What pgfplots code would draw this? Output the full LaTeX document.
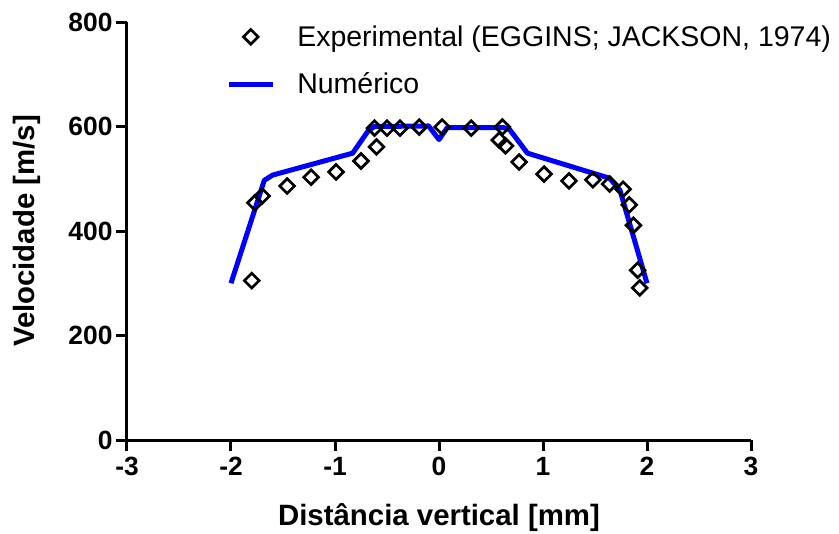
\documentclass[border=0pt]{standalone}
\usepackage{pgfplots}
\pgfplotsset{compat=1.18}
\usepackage{fontspec}
\setmainfont{Liberation Sans}
\pgfplotsset{
  lineleg/.style={legend image code/.code={\draw[##1] (0bp,0bp) -- (44bp,0bp);}},
  markleg/.style={legend image code/.code={\draw[mark repeat=2,mark phase=2,##1] plot coordinates {(0bp,0bp)(22bp,0bp)(44bp,0bp)};}},
}
\begin{document}
\begin{tikzpicture}
\begin{axis}[
  scale only axis, width=624bp, height=418bp,
  xmin=-3, xmax=3, ymin=0, ymax=800,
  axis x line=bottom, axis y line=left,
  axis line style={-, line width=3bp, black},
  xtick={-3,-2,-1,0,1,2,3}, ytick={0,200,400,600,800},
  tick align=outside, major tick length=11bp,
  tick style={black, line width=3bp},
  ticklabel style={font=\fontsize{26.5}{26.5}\selectfont\bfseries},
  xticklabel style={yshift=-3bp},
  /pgf/number format/assume math mode=true,
  xlabel={Distância vertical [mm]}, ylabel={Velocidade [m/s]},
  label style={font=\fontsize{29.5}{29.5}\selectfont\bfseries},
  xlabel style={at={(axis description cs:0.5,-0.1866)}, anchor=center},
  ylabel style={at={(axis description cs:-0.1603,0.5)}, anchor=center},
  legend style={draw=none, fill=none, at={(axis description cs:0.154,1.001)}, anchor=north west,
    font=\fontsize{28.6}{28.6}\selectfont, row sep=21bp, column sep=20bp},
  legend cell align=left,
  reverse legend,
  clip=false,
]
\addplot[blue, line width=5bp, line join=round, no markers, lineleg]
  coordinates {
  (-2.00,300) (-1.68,497) (-1.60,507) (-0.83,549) (-0.68,592) (-0.62,600)
  (-0.10,601) (0.00,575) (0.08,598) (0.62,598) (0.68,594) (0.85,549)
  (1.64,501) (1.74,478) (2.00,300)
};
\addlegendentry{Numérico}
\addplot[only marks, mark=square, mark size=5.2bp,
  mark options={rotate=45, line width=2.7bp, black, solid}, markleg]
  coordinates {
  (-1.80,305) (-1.77,454) (-1.70,467) (-1.46,486) (-1.23,503) (-0.99,513)
  (-0.75,534) (-0.60,561) (-0.62,597) (-0.50,597) (-0.375,597) (-0.19,599)
  (0.03,599) (0.31,597) (0.61,599) (0.58,574) (0.64,563) (0.77,532)
  (1.01,509) (1.25,496) (1.48,498) (1.64,490) (1.77,480) (1.83,450)
  (1.87,411) (1.91,325) (1.93,291)
};
\addlegendentry{Experimental (EGGINS; JACKSON, 1974)}
\end{axis}
\pgfresetboundingbox
\useasboundingbox (-127bp,-94bp) rectangle (712bp,440bp);
\end{tikzpicture}
\end{document}
